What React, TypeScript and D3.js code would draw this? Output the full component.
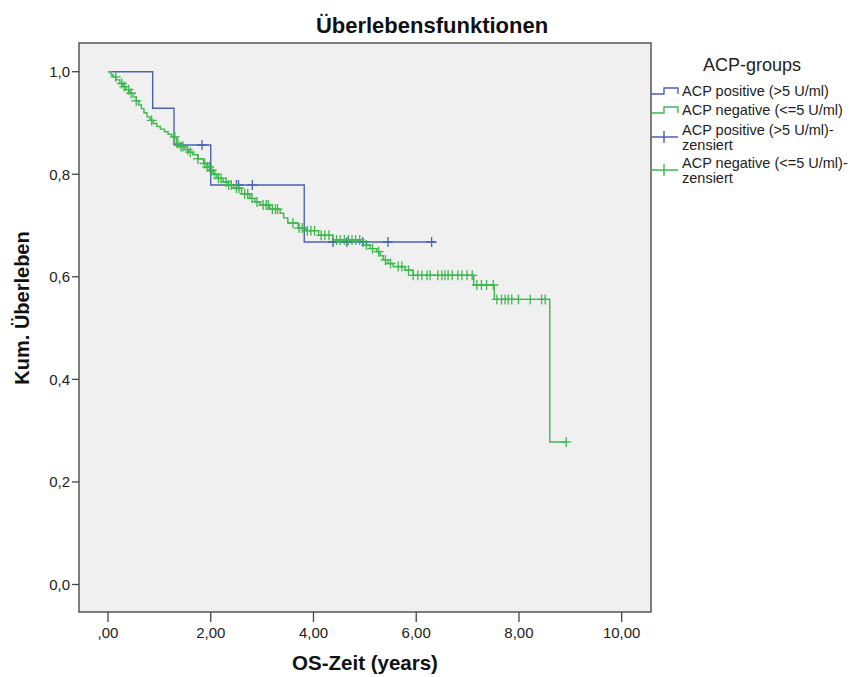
import React, { useEffect, useRef } from 'react';
import * as d3 from 'd3';

// Kaplan-Meier steps: [time in years, survival after the drop]
const positiveSteps: [number, number][] = [
    [0, 1.0],
    [0.87, 0.9286],
    [1.285, 0.8571],
    [2.0, 0.7792],
    [3.82, 0.6679],
];
const positiveEnd = 6.38;
const positiveCensored = [1.83, 2.5, 2.54, 2.81, 4.38, 4.65, 4.96, 5.45, 6.3];

const negativeSteps: [number, number][] = [
    [0, 1.0],
    [0.06, 0.994],
    [0.1, 0.99],
    [0.16, 0.984],
    [0.23, 0.977],
    [0.29, 0.971],
    [0.35, 0.965],
    [0.42, 0.958],
    [0.49, 0.951],
    [0.55, 0.943],
    [0.6, 0.935],
    [0.65, 0.928],
    [0.7, 0.92],
    [0.76, 0.912],
    [0.82, 0.905],
    [0.88, 0.899],
    [0.95, 0.893],
    [1.02, 0.888],
    [1.1, 0.883],
    [1.17, 0.878],
    [1.24, 0.873],
    [1.34, 0.86],
    [1.42, 0.854],
    [1.5, 0.848],
    [1.57, 0.843],
    [1.65, 0.838],
    [1.75, 0.83],
    [1.86, 0.821],
    [1.93, 0.814],
    [1.99, 0.808],
    [2.05, 0.8],
    [2.12, 0.792],
    [2.24, 0.785],
    [2.34, 0.779],
    [2.44, 0.773],
    [2.6, 0.762],
    [2.76, 0.753],
    [2.86, 0.746],
    [2.96, 0.74],
    [3.15, 0.732],
    [3.35, 0.724],
    [3.42, 0.715],
    [3.5, 0.705],
    [3.7, 0.695],
    [3.85, 0.69],
    [4.1, 0.681],
    [4.38, 0.672],
    [4.97, 0.662],
    [5.1, 0.655],
    [5.23, 0.649],
    [5.3, 0.641],
    [5.36, 0.633],
    [5.45, 0.626],
    [5.55, 0.62],
    [5.78, 0.613],
    [5.94, 0.603],
    [7.12, 0.584],
    [7.52, 0.556],
    [8.6, 0.278],
];
const negativeEnd = 8.92;
const negativeCensored = [
    0.15, 0.27, 0.32, 0.4, 0.45, 0.55, 0.85, 1.3, 1.36, 1.42, 1.46, 1.55, 1.6, 1.75, 1.88, 1.93, 1.97,
    2.02, 2.08, 2.15, 2.2, 2.3, 2.35, 2.4, 2.5, 2.55, 2.66, 2.72, 2.8, 2.9, 3.02, 3.08, 3.12, 3.2, 3.26,
    3.3, 3.6, 3.72, 3.78, 3.88, 3.95, 4.02, 4.15, 4.22, 4.3, 4.45, 4.52, 4.6, 4.68, 4.75, 4.82, 4.9, 5.03,
    5.15, 5.27, 5.4, 5.5, 5.65, 5.72, 5.85, 5.94, 6.03, 6.11, 6.21, 6.27, 6.42, 6.5, 6.56, 6.62, 6.7, 6.81,
    6.89, 6.99, 7.09, 7.18, 7.27, 7.37, 7.5, 7.57, 7.66, 7.73, 7.79, 7.86, 7.99, 8.22, 8.44, 8.51, 8.92,
];

const xTicks = [0, 2, 4, 6, 8, 10];
const yTicks = [0, 0.2, 0.4, 0.6, 0.8, 1.0];
const legendLabels = [
    ['ACP positive (>5 U/ml)'],
    ['ACP negative (<=5 U/ml)'],
    ['ACP positive (>5 U/ml)-', 'zensiert'],
    ['ACP negative (<=5 U/ml)-', 'zensiert'],
];

const BLUE = '#4a62b4';
const GREEN = '#3cb84c';
const FONT = '"Liberation Sans", Arial, sans-serif';

const fmtX = (d: number) => (d === 0 ? ',00' : d.toFixed(2).replace('.', ','));
const fmtY = (d: number) => d.toFixed(1).replace('.', ',');

export default function App() {
    const ref = useRef<SVGSVGElement>(null);

    useEffect(() => {
        const svg = d3.select(ref.current);
        svg.selectAll('*').remove();

        const box = { left: 79, top: 43, right: 651, bottom: 612 };
        const x = d3.scaleLinear().domain([0, 10]).range([108, 621.7]);
        const y = d3.scaleLinear().domain([0, 1]).range([584.5, 71.7]);

        svg.append('rect')
            .attr('x', box.left)
            .attr('y', box.top)
            .attr('width', box.right - box.left)
            .attr('height', box.bottom - box.top)
            .attr('fill', '#f0f0f0')
            .attr('stroke', '#555')
            .attr('stroke-width', 1.5);

        // x axis
        const xg = svg.append('g').attr('font-family', FONT).attr('font-size', 15);
        xTicks.forEach((t) => {
            xg.append('line')
                .attr('x1', x(t)).attr('x2', x(t))
                .attr('y1', box.bottom).attr('y2', box.bottom + 10)
                .attr('stroke', '#444').attr('stroke-width', 1.3);
            xg.append('text')
                .attr('x', x(t)).attr('y', box.bottom + 26)
                .attr('text-anchor', 'middle').attr('fill', '#222')
                .text(fmtX(t));
        });

        // y axis
        const yg = svg.append('g').attr('font-family', FONT).attr('font-size', 15);
        yTicks.forEach((t) => {
            yg.append('line')
                .attr('x1', box.left - 7).attr('x2', box.left)
                .attr('y1', y(t)).attr('y2', y(t))
                .attr('stroke', '#444').attr('stroke-width', 1.3);
            yg.append('text')
                .attr('x', box.left - 9).attr('y', y(t))
                .attr('dy', '0.35em')
                .attr('text-anchor', 'end').attr('fill', '#222')
                .text(fmtY(t));
        });

        const stepPath = (steps: [number, number][], end: number) => {
            let p = `M${x(steps[0][0])},${y(steps[0][1])}`;
            for (let i = 1; i < steps.length; i++) {
                p += `H${x(steps[i][0])}V${y(steps[i][1])}`;
            }
            return p + `H${x(end)}`;
        };
        const survAt = (steps: [number, number][], t: number) => {
            let s = steps[0][1];
            steps.forEach((d) => {
                if (d[0] <= t) s = d[1];
            });
            return s;
        };

        const drawCurve = (steps: [number, number][], end: number, cens: number[], color: string) => {
            const g = svg.append('g');
            g.append('path')
                .attr('d', stepPath(steps, end))
                .attr('fill', 'none')
                .attr('stroke', color)
                .attr('stroke-width', 1.4);
            g.selectAll('path.cens')
                .data(cens)
                .enter()
                .append('path')
                .attr('class', 'cens')
                .attr('d', (t) => {
                    const cx = x(t);
                    const cy = y(survAt(steps, t));
                    return `M${cx - 5},${cy}H${cx + 5}M${cx},${cy - 5}V${cy + 5}`;
                })
                .attr('stroke', color)
                .attr('stroke-width', 1.3);
        };

        drawCurve(positiveSteps, positiveEnd, positiveCensored, BLUE);
        drawCurve(negativeSteps, negativeEnd, negativeCensored, GREEN);

        // titles
        svg.append('text')
            .attr('x', 432).attr('y', 33)
            .attr('text-anchor', 'middle')
            .attr('font-family', FONT).attr('font-size', 22).attr('font-weight', 'bold')
            .attr('fill', '#111')
            .text('Überlebensfunktionen');
        svg.append('text')
            .attr('x', 365).attr('y', 670)
            .attr('text-anchor', 'middle')
            .attr('font-family', FONT).attr('font-size', 20.5).attr('font-weight', 'bold')
            .attr('fill', '#111')
            .text('OS-Zeit (years)');
        svg.append('text')
            .attr('transform', 'translate(29,308) rotate(-90)')
            .attr('text-anchor', 'middle')
            .attr('font-family', FONT).attr('font-size', 20).attr('font-weight', 'bold')
            .attr('fill', '#111')
            .text('Kum. Überleben');

        // legend
        const lg = svg.append('g').attr('font-family', FONT).attr('fill', '#222');
        lg.append('text')
            .attr('x', 752).attr('y', 71)
            .attr('text-anchor', 'middle').attr('font-size', 18)
            .text('ACP-groups');
        const rows = [
            { y: 91, color: BLUE, kind: 'step' },
            { y: 110, color: GREEN, kind: 'step' },
            { y: 137, color: BLUE, kind: 'cens' },
            { y: 170, color: GREEN, kind: 'cens' },
        ];
        rows.forEach((r, i) => {
            if (r.kind === 'step') {
                lg.append('path')
                    .attr('d', `M651,${r.y + 3}H664V${r.y - 3}H678V${r.y + 3}`)
                    .attr('fill', 'none').attr('stroke', r.color).attr('stroke-width', 1.4);
            } else {
                lg.append('path')
                    .attr('d', `M651,${r.y}H678M664,${r.y - 6}V${r.y + 6}`)
                    .attr('fill', 'none').attr('stroke', r.color).attr('stroke-width', 1.4);
            }
            const lines = legendLabels[i];
            lines.forEach((s, j) => {
                lg.append('text')
                    .attr('x', 682)
                    .attr('y', r.y + (j - (lines.length - 1) / 2) * 15)
                    .attr('dy', '0.35em')
                    .attr('font-size', 14.5)
                    .text(s);
            });
        });
    }, []);

    return (
        <svg
            ref={ref}
            width={853}
            height={677}
            style={{ position: 'absolute', left: 0, top: 0, background: '#fff' }}
        />
    );
}
